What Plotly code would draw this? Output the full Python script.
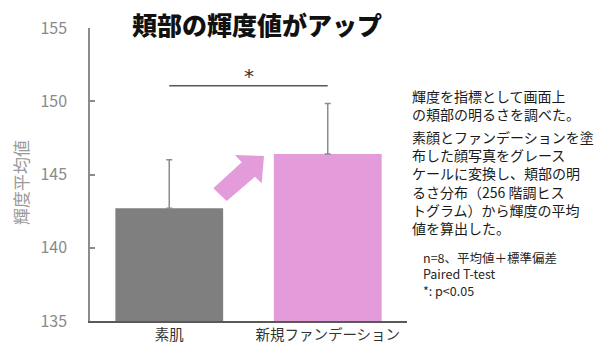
import plotly.graph_objects as go

# ---- data ----
categories = ["素肌", "新規ファンデーション"]
means = [142.7, 146.4]
sd_plus = [3.3, 3.45]
bar_colors = ["#7f7f7f", "#e39bd9"]
y_ticks = [135, 140, 145, 150, 155]

title_text = "頬部の輝度値がアップ"
y_title = "輝度平均値"
para1 = ["輝度を指標として画面上", "の頬部の明るさを調べた。"]
para2 = [
    "素顔とファンデーションを塗",
    "布した顔写真をグレース",
    "ケールに変換し、頬部の明",
    "るさ分布（256 階調ヒス",
    "トグラム）から輝度の平均",
    "値を算出した。",
]
note_lines = ["n=8、平均値＋標準偏差", "Paired T-test", "*: p<0.05"]

# ---- layout (page body has an 8px default margin) ----
OFF = 8
W, H = 615 - OFF, 351 - OFF
# plot area in screen pixels: x 90..407, y 28..321
L = 90 - OFF
R = W - (407 - OFF)
T = 28 - OFF
B = H - (321 - OFF)
PW, PH = W - L - R, H - T - B


def px(x):
    return (x - OFF - L) / PW


def py(y):
    return (H - B - (y - OFF)) / PH


FONT = "Noto Sans CJK JP"

fig = go.Figure()
fig.add_trace(go.Bar(
    x=categories, y=means, width=0.68,
    marker=dict(color=bar_colors, line=dict(width=0)),
    error_y=dict(type="data", symmetric=False, array=sd_plus, arrayminus=[0, 0],
                 color="#8c8c8c", thickness=1.5, width=3),
    hoverinfo="skip",
))

annotations = []
annotations.append(dict(text=title_text, x=px(257), y=py(24), xref="paper", yref="paper",
                        showarrow=False, xanchor="center", yanchor="middle",
                        font=dict(family=FONT, size=25, color="#111111", weight=900)))
annotations.append(dict(text=y_title, x=px(20), y=py(183), xref="paper", yref="paper",
                        showarrow=False, textangle=-90, xanchor="center", yanchor="middle",
                        font=dict(family=FONT, size=17, color="#9a9a9a")))
annotations.append(dict(text="*", x=0.5, y=py(76), xref="x", yref="paper",
                        showarrow=False, xanchor="center", yanchor="middle",
                        font=dict(family="DejaVu Sans", size=20, color="#333333")))
annotations.append(dict(text="<br>".join(para1), x=px(410), y=py(105), xref="paper", yref="paper",
                        showarrow=False, xanchor="left", yanchor="middle", align="left",
                        font=dict(family=FONT, size=14, color="#1a1a1a")))
annotations.append(dict(text="<br>".join(para2), x=px(410), y=py(182), xref="paper", yref="paper",
                        showarrow=False, xanchor="left", yanchor="middle", align="left",
                        font=dict(family=FONT, size=14, color="#1a1a1a")))
annotations.append(dict(text="<br>".join(note_lines), x=px(421), y=py(274), xref="paper", yref="paper",
                        showarrow=False, xanchor="left", yanchor="middle", align="left",
                        font=dict(family=FONT, size=12.5, color="#262626")))

# arrow polygon (screen pixel coords -> paper)
arrow_px = [(213.3, 188.3), (241.7, 162.3), (235, 155), (264, 156),
            (261.7, 183.3), (255, 176.7), (226.7, 201)]
path = "M " + " L ".join(f"{px(a):.4f},{py(b):.4f}" for a, b in arrow_px) + " Z"

shapes = [
    dict(type="path", path=path, xref="paper", yref="paper",
         fillcolor="#e39bd9", line=dict(width=0)),
    dict(type="line", x0=0, x1=1, y0=151.05, y1=151.05, xref="x", yref="y",
         line=dict(color="#595959", width=1.5)),
]

fig.update_layout(
    width=W, height=H,
    margin=dict(l=L, r=R, t=T, b=B, pad=0, autoexpand=False),
    paper_bgcolor="white", plot_bgcolor="white",
    showlegend=False,
    annotations=annotations, shapes=shapes,
    xaxis=dict(type="category", range=[-0.5, 1.5], showline=True, linecolor="#595959",
               linewidth=1.5, ticks="", showgrid=False, zeroline=False, automargin=False,
               tickfont=dict(family=FONT, size=14.5, color="#333333")),
    yaxis=dict(range=[135, 155], tickvals=y_ticks, showline=True, linecolor="#8c8c8c",
               linewidth=1.5, ticks="inside", ticklen=5, tickcolor="#8c8c8c",
               tickwidth=1.5, showgrid=False, zeroline=False, ticklabelstandoff=18,
               automargin=False,
               tickfont=dict(family=FONT, size=16, color="#8a8a8a")),
)

fig.write_html("out.html")
